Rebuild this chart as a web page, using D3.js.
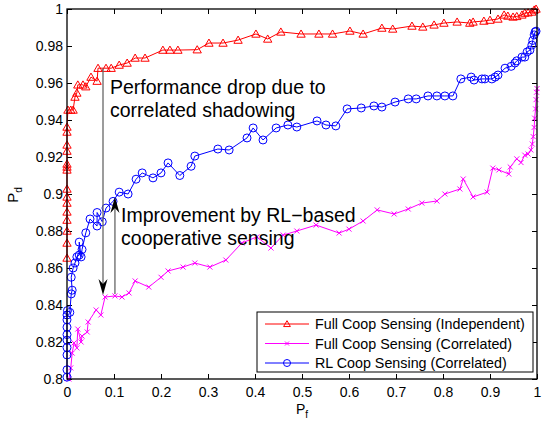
<!DOCTYPE html>
<html>
<head>
<meta charset="utf-8">
<script src="https://cdn.jsdelivr.net/npm/d3@7/dist/d3.min.js"></script>
<style>
  body { margin: 0; background: #fff; }
  svg { display: block; font-family: Arial, "Liberation Sans", Helvetica, sans-serif; }
</style>
</head>
<body>
<div class="chart"></div>
<script>
const WIDTH = 542;
const HEIGHT = 421;
const LEFT = 67, RIGHT = 537, TOP = 9, BOTTOM = 379;

var xTicks = [0, 0.1, 0.2, 0.3, 0.4, 0.5, 0.6, 0.7, 0.8, 0.9, 1];
var yTicks = [0.8, 0.82, 0.84, 0.86, 0.88, 0.9, 0.92, 0.94, 0.96, 0.98, 1];

var seriesNames = ['Full Coop Sensing (Independent)', 'Full Coop Sensing (Correlated)', 'RL Coop Sensing (Correlated)'];

// [Pf, Pd]
var indepPoints = [
  [0, 0.8654], [0, 0.8735], [0, 0.8800], [0, 0.8859], [0, 0.8903], [0, 0.8951], [0, 0.8984],
  [0, 0.9027], [0, 0.9130], [0, 0.9146], [0, 0.9162], [0, 0.9232], [0, 0.9265], [0, 0.9335],
  [0, 0.9362], [0.002, 0.9454], [0.008, 0.9454], [0.013, 0.9454], [0.017, 0.9524], [0.021, 0.9546],
  [0.023, 0.959], [0.034, 0.959], [0.040, 0.958], [0.051, 0.9632], [0.064, 0.961], [0.066, 0.968],
  [0.083, 0.968], [0.094, 0.968], [0.111, 0.9697], [0.128, 0.9708], [0.145, 0.9735], [0.166, 0.9735],
  [0.204, 0.9778], [0.219, 0.9778], [0.236, 0.9778], [0.277, 0.978], [0.302, 0.9816], [0.332, 0.9816],
  [0.364, 0.9832], [0.402, 0.9865], [0.427, 0.9838], [0.455, 0.9876], [0.498, 0.9865], [0.536, 0.9865],
  [0.565, 0.9865], [0.602, 0.9881], [0.630, 0.9865], [0.670, 0.9897], [0.693, 0.9892], [0.734, 0.9908],
  [0.757, 0.9903], [0.781, 0.9914], [0.802, 0.9924], [0.830, 0.993], [0.857, 0.9924], [0.864, 0.993],
  [0.887, 0.9935], [0.9, 0.994], [0.917, 0.9946], [0.930, 0.9968], [0.938, 0.9962], [0.949, 0.9957],
  [0.957, 0.996], [0.968, 0.9968], [0.974, 0.9978], [0.981, 0.998], [0.989, 0.9984], [0.994, 0.9995],
  [0.998, 1.0]
];

var corrPoints = [
  [0.004, 0.800], [0.008, 0.806], [0.011, 0.814], [0.015, 0.8195], [0.021, 0.8168], [0.023, 0.827],
  [0.030, 0.820], [0.032, 0.8232], [0.043, 0.8254], [0.045, 0.8308], [0.062, 0.8373], [0.072, 0.8346],
  [0.081, 0.8443], [0.102, 0.8449], [0.117, 0.8443], [0.132, 0.8465], [0.145, 0.853], [0.174, 0.8497],
  [0.200, 0.855], [0.215, 0.8584], [0.247, 0.8605], [0.272, 0.8627], [0.304, 0.8605], [0.338, 0.8643],
  [0.372, 0.8735], [0.404, 0.8768], [0.434, 0.8708], [0.460, 0.8778], [0.489, 0.880], [0.530, 0.8832],
  [0.579, 0.8789], [0.600, 0.881], [0.630, 0.8854], [0.660, 0.8914], [0.696, 0.8892], [0.726, 0.8919],
  [0.755, 0.8951], [0.787, 0.8962], [0.804, 0.900], [0.836, 0.9027], [0.843, 0.9081], [0.864, 0.8984],
  [0.894, 0.901], [0.906, 0.914], [0.919, 0.913], [0.940, 0.9108], [0.943, 0.9146], [0.957, 0.919],
  [0.966, 0.917], [0.974, 0.921], [0.981, 0.9216], [0.987, 0.9238], [0.990, 0.927], [0.992, 0.931],
  [0.994, 0.936], [0.995, 0.941], [0.997, 0.946], [0.998, 0.951], [0.999, 0.955], [1.0, 0.957]
];

var rlPoints = [
  [0, 0.801], [0, 0.805], [0, 0.813], [0, 0.817], [0, 0.821], [0, 0.824], [0, 0.828], [0, 0.832],
  [0, 0.8346], [0.001, 0.837], [0.006, 0.836], [0.009, 0.846], [0.011, 0.848], [0.009, 0.855],
  [0.013, 0.860], [0.017, 0.8627], [0.021, 0.866], [0.026, 0.867], [0.026, 0.874], [0.030, 0.866],
  [0.032, 0.870], [0.040, 0.879], [0.049, 0.8865], [0.064, 0.8827], [0.064, 0.890], [0.075, 0.885],
  [0.083, 0.8924], [0.098, 0.896], [0.111, 0.901], [0.130, 0.900], [0.147, 0.908], [0.160, 0.9114],
  [0.183, 0.9087], [0.200, 0.9114], [0.215, 0.9168], [0.240, 0.910], [0.264, 0.915], [0.272, 0.9205],
  [0.321, 0.9243], [0.345, 0.9238], [0.383, 0.9303], [0.396, 0.9357], [0.417, 0.9292], [0.445, 0.9357],
  [0.470, 0.9373], [0.489, 0.9362], [0.532, 0.9395], [0.551, 0.9373], [0.572, 0.9368], [0.596, 0.946],
  [0.626, 0.9465], [0.653, 0.9476], [0.670, 0.947], [0.698, 0.9497], [0.726, 0.9514], [0.743, 0.9514],
  [0.768, 0.953], [0.787, 0.953], [0.804, 0.953], [0.821, 0.953], [0.838, 0.9622], [0.860, 0.9632],
  [0.866, 0.9616], [0.883, 0.9622], [0.889, 0.9622], [0.904, 0.9622], [0.911, 0.9632], [0.917, 0.9643],
  [0.932, 0.968], [0.945, 0.969], [0.953, 0.9708], [0.957, 0.972], [0.968, 0.974], [0.974, 0.974],
  [0.979, 0.9768], [0.985, 0.9778], [0.989, 0.9805], [0.991, 0.983], [0.994, 0.986], [0.996, 0.9876],
  [0.998, 0.988]
];

// annotation text and arrows, in data units
var dropText = ['Performance drop due to', 'correlated shadowing'];
var gainText = ['Improvement by RL\u2212based', 'cooperative sensing'];
var dropArrow = [[0.0766, 0.968], [0.0766, 0.8454]];
var gainArrow = [[0.102, 0.846], [0.102, 0.8984]];

var x = d3.scaleLinear().domain([0, 1]).range([LEFT, RIGHT]);
var y = d3.scaleLinear().domain([0.8, 1]).range([BOTTOM, TOP]);

var svg = d3.select('.chart').append('svg')
  .attr('width', WIDTH)
  .attr('height', HEIGHT);

var defs = svg.append('defs');
defs.append('clipPath').attr('id', 'plotclip')
  .append('rect').attr('x', LEFT - 6).attr('y', TOP - 6)
  .attr('width', RIGHT - LEFT + 12).attr('height', BOTTOM - TOP + 12);

// axes, MATLAB style: ticks inside, on all four sides
var fmt = function (d) { return String(+d.toFixed(2)); };
function styleAxis(g) {
  g.select('.domain').remove();
  g.selectAll('.tick line').attr('stroke', '#000');
  g.selectAll('.tick text').attr('fill', '#000').attr('font-size', 14)
    .attr('font-family', 'Arial, "Liberation Sans", sans-serif');
}
svg.append('g').attr('transform', 'translate(0,' + BOTTOM + ')')
  .call(d3.axisBottom(x).tickValues(xTicks).tickFormat(fmt).tickSizeInner(-5).tickSizeOuter(0).tickPadding(8))
  .call(styleAxis);
svg.append('g').attr('transform', 'translate(0,' + TOP + ')')
  .call(d3.axisTop(x).tickValues(xTicks).tickFormat('').tickSizeInner(-5).tickSizeOuter(0))
  .call(styleAxis);
svg.append('g').attr('transform', 'translate(' + LEFT + ',0)')
  .call(d3.axisLeft(y).tickValues(yTicks).tickFormat(fmt).tickSizeInner(-5).tickSizeOuter(0).tickPadding(4))
  .call(styleAxis);
svg.append('g').attr('transform', 'translate(' + RIGHT + ',0)')
  .call(d3.axisRight(y).tickValues(yTicks).tickFormat('').tickSizeInner(-5).tickSizeOuter(0))
  .call(styleAxis);

// series
var line = d3.line().x(function (d) { return x(d[0]); }).y(function (d) { return y(d[1]); });
var tri = d3.symbol().type(d3.symbolTriangle).size(30);
var plot = svg.append('g').attr('clip-path', 'url(#plotclip)');

function drawSeries(points, color, marker) {
  var g = plot.append('g');
  g.append('path').attr('d', line(points))
    .attr('fill', 'none').attr('stroke', color).attr('stroke-width', 1);
  var sel = g.selectAll('.m').data(points).enter().append('g')
    .attr('transform', function (d) { return 'translate(' + x(d[0]) + ',' + y(d[1]) + ')'; });
  markerShape(sel, color, marker);
}

function markerShape(sel, color, marker) {
  if (marker === 'tri') {
    sel.append('path').attr('d', tri).attr('transform', 'translate(0,0.8)')
      .attr('fill', 'none').attr('stroke', color).attr('stroke-width', 1);
  } else if (marker === 'x') {
    sel.append('path').attr('d', 'M-2.5,-2.5L2.5,2.5M-2.5,2.5L2.5,-2.5')
      .attr('stroke', color).attr('stroke-width', 1);
  } else {
    sel.append('circle').attr('r', 4)
      .attr('fill', 'none').attr('stroke', color).attr('stroke-width', 1);
  }
}

drawSeries(indepPoints, '#ff0000', 'tri');
drawSeries(corrPoints, '#ff00ff', 'x');
drawSeries(rlPoints, '#0000ff', 'o');

// frame
svg.append('rect').attr('x', LEFT).attr('y', TOP)
  .attr('width', RIGHT - LEFT).attr('height', BOTTOM - TOP)
  .attr('fill', 'none').attr('stroke', '#000').attr('stroke-width', 1.3);

// axis labels
var xl = svg.append('text').attr('x', 302).attr('y', 414)
  .attr('text-anchor', 'middle').attr('font-size', 14);
xl.append('tspan').text('P');
xl.append('tspan').attr('font-size', 10).attr('dy', 4).text('f');

var yl = svg.append('text').attr('transform', 'translate(18,195) rotate(-90)')
  .attr('text-anchor', 'middle').attr('font-size', 15);
yl.append('tspan').text('P');
yl.append('tspan').attr('font-size', 10).attr('dy', 4).text('d');

// annotations
function drawArrow(pts) {
  var x0 = x(pts[0][0]), y0 = y(pts[0][1]), y1 = y(pts[1][1]);
  var dir = y1 > y0 ? 1 : -1;
  svg.append('line').attr('x1', x0).attr('x2', x0).attr('y1', y0).attr('y2', y1 - dir * 6)
    .attr('stroke', '#666').attr('stroke-width', 1.3);
  svg.append('path')
    .attr('d', 'M' + x0 + ',' + y1 + 'L' + (x0 - 4.5) + ',' + (y1 - dir * 16) +
      'L' + x0 + ',' + (y1 - dir * 11) + 'L' + (x0 + 4.5) + ',' + (y1 - dir * 16) + 'Z')
    .attr('fill', '#000');
}
drawArrow(dropArrow);
drawArrow(gainArrow);

function drawNote(lines, px, py) {
  lines.forEach(function (t, i) {
    svg.append('text').attr('x', x(px)).attr('y', y(py) + i * 23)
      .attr('font-size', 19.5).attr('fill', '#000').text(t);
  });
}
drawNote(dropText, 0.0915, 0.954);
drawNote(gainText, 0.115, 0.885);

// legend
var legend = svg.append('g');
legend.append('rect').attr('x', 257).attr('y', 312).attr('width', 276).attr('height', 60)
  .attr('fill', '#fff').attr('stroke', '#000').attr('stroke-width', 1);
var colors = ['#ff0000', '#ff00ff', '#0000ff'];
var markers = ['tri', 'x', 'o'];
seriesNames.forEach(function (name, i) {
  var cy = 324 + i * 19.5;
  legend.append('line').attr('x1', 265).attr('x2', 309).attr('y1', cy).attr('y2', cy)
    .attr('stroke', colors[i]).attr('stroke-width', 1);
  var m = legend.append('g').attr('transform', 'translate(287,' + cy + ')');
  if (markers[i] === 'o') {
    m.append('circle').attr('r', 3.5).attr('fill', 'none').attr('stroke', colors[i]);
  } else if (markers[i] === 'x') {
    m.append('path').attr('d', 'M-2,-2L2,2M-2,2L2,-2').attr('stroke', colors[i]);
  } else {
    m.append('path').attr('d', d3.symbol().type(d3.symbolTriangle).size(20)).attr('transform', 'translate(0,0.6)')
      .attr('fill', 'none').attr('stroke', colors[i]);
  }
  legend.append('text').attr('x', 315).attr('y', cy + 5).attr('font-size', 14.3).text(name);
});
</script>
</body>
</html>
